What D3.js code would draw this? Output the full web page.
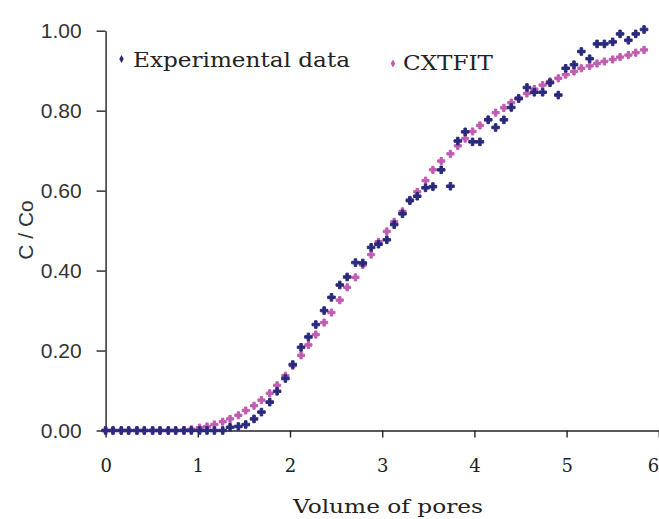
<!DOCTYPE html>
<html>
<head>
<meta charset="utf-8">
<script src="https://cdn.jsdelivr.net/npm/d3@7"></script>
<style>
  html, body { margin: 0; padding: 0; background: #fff; }
  svg { display: block; }
</style>
</head>
<body>
<svg id="chart" width="659" height="519"></svg>
<script>
// pore volumes shared by both series
const poreVolumes = [
  0.00, 0.08, 0.17, 0.25, 0.34, 0.42, 0.51, 0.59, 0.68, 0.76, 0.85, 0.93,
  1.02, 1.10, 1.18, 1.27, 1.35, 1.44, 1.52, 1.61, 1.69, 1.78, 1.86, 1.95,
  2.03, 2.12, 2.20, 2.28, 2.37, 2.45, 2.54, 2.62, 2.71, 2.79, 2.88, 2.96,
  3.05, 3.13, 3.22, 3.30, 3.38, 3.47, 3.55, 3.64, 3.74, 3.82, 3.90, 3.98,
  4.06, 4.15, 4.23, 4.32, 4.40, 4.48, 4.57, 4.65, 4.74, 4.82, 4.91, 4.99,
  5.08, 5.16, 5.25, 5.33, 5.41, 5.50, 5.58, 5.67, 5.75, 5.84
];

// measured C/Co
const experimental = [
  0, 0, 0, 0, 0, 0, 0, 0, 0, 0, 0, 0,
  0, 0, 0, 0, 0.008, 0.010, 0.015, 0.029, 0.046, 0.071, 0.098, 0.130,
  0.165, 0.208, 0.234, 0.265, 0.300, 0.333, 0.364, 0.384, 0.420, 0.419, 0.458, 0.466,
  0.477, 0.515, 0.542, 0.575, 0.586, 0.607, 0.610, 0.652, 0.611, 0.724, 0.747, 0.722,
  0.722, 0.777, 0.758, 0.777, 0.808, 0.830, 0.858, 0.846, 0.846, 0.870, 0.839, 0.906,
  0.915, 0.948, 0.930, 0.967, 0.967, 0.972, 0.992, 0.976, 0.992, 1.003
];

// fitted C/Co
const cxtfit = [
  0, 0, 0, 0, 0, 0, 0, 0, 0, 0, 0.001, 0.003,
  0.007, 0.010, 0.015, 0.022, 0.029, 0.038, 0.050, 0.062, 0.076, 0.093, 0.113, 0.137,
  0.162, 0.188, 0.214, 0.240, 0.270, 0.295, 0.326, 0.358, 0.383, 0.414, 0.440, 0.472,
  0.498, 0.522, 0.548, 0.577, 0.597, 0.625, 0.652, 0.674, 0.692, 0.712, 0.730, 0.748,
  0.763, 0.778, 0.795, 0.807, 0.820, 0.832, 0.843, 0.854, 0.864, 0.873, 0.881, 0.890,
  0.898, 0.906, 0.912, 0.918, 0.923, 0.928, 0.934, 0.939, 0.945, 0.952
];

const xTicks = [0, 1, 2, 3, 4, 5, 6];
const yTicks = [0, 0.2, 0.4, 0.6, 0.8, 1.0];

const navy = "#2a2a7c";
const pink = "#c15cb1";
const serif = "'DejaVu Serif', serif";
const sans = "'Liberation Sans', Arial, sans-serif";

const svg = d3.select("#chart");

const x = d3.scaleLinear().domain([0, 6]).range([105.6, 658.8]);
const y = d3.scaleLinear().domain([0, 1]).range([430.5, 30.7]);

// y axis
const yAxis = svg.append("g")
  .attr("transform", `translate(${x(0)},0)`)
  .call(d3.axisLeft(y).tickValues(yTicks).tickFormat(d3.format(".2f"))
    .tickSize(9).tickPadding(15).tickSizeOuter(0));
yAxis.select(".domain").attr("stroke", "#222").attr("stroke-width", 1.4);
yAxis.selectAll(".tick line").attr("stroke", "#222").attr("stroke-width", 1.4);
yAxis.selectAll("text")
  .attr("fill", "#333")
  .style("font-family", sans)
  .style("font-size", "21px");

// x axis
const xAxis = svg.append("g")
  .attr("transform", `translate(0,${y(0)})`)
  .call(d3.axisBottom(x).tickValues(xTicks).tickFormat(d3.format("d"))
    .tickSize(7).tickPadding(22).tickSizeOuter(0));
xAxis.select(".domain").attr("stroke", "#222").attr("stroke-width", 1.4);
xAxis.selectAll(".tick line").attr("stroke", "#222").attr("stroke-width", 1.4);
xAxis.selectAll("text")
  .attr("fill", "#222")
  .style("font-family", serif)
  .style("font-size", "18px");
// last label sits on the right edge, keep it inside
xAxis.selectAll(".tick text")
  .filter(d => d === 6)
  .attr("text-anchor", "end")
  .attr("x", 0);

// axis titles
svg.append("text")
  .attr("x", 388)
  .attr("y", 513)
  .attr("text-anchor", "middle")
  .attr("fill", "#222")
  .attr("textLength", 190)
  .attr("lengthAdjust", "spacingAndGlyphs")
  .style("font-family", serif)
  .style("font-size", "19px")
  .text("Volume of pores");

svg.append("text")
  .attr("transform", "translate(33,230) rotate(-90)")
  .attr("text-anchor", "middle")
  .attr("fill", "#333")
  .style("font-family", sans)
  .style("font-size", "21px")
  .text("C / Co");

// markers
const marker = d3.symbol().type(d3.symbolCross);

const series = [
  { name: "CXTFIT", values: cxtfit, color: pink, size: 28 },
  { name: "Experimental data", values: experimental, color: navy, size: 32 }
];

// fitted curve drawn first, measured on top
series.forEach(s => {
  svg.append("g")
    .selectAll("path")
    .data(poreVolumes.map((v, i) => [v, s.values[i]]))
    .join("path")
    .attr("transform", d => `translate(${x(d[0])},${y(d[1])})`)
    .attr("d", marker.size(s.size)())
    .attr("fill", s.color)
    .attr("stroke", s.color)
    .attr("stroke-width", 1)
    .attr("stroke-linejoin", "round");
});

// legend
const legend = [
  { name: "Experimental data", color: navy, mx: 121.5, my: 59, tx: 133, ty: 66.5, len: 217 },
  { name: "CXTFIT", color: pink, mx: 393, my: 63.5, tx: 403, ty: 69.5, len: 90 }
];

legend.forEach(l => {
  svg.append("path")
    .attr("transform", `translate(${l.mx},${l.my})`)
    .attr("d", d3.symbol().type(d3.symbolDiamond).size(18)())
    .attr("fill", l.color);
  svg.append("text")
    .attr("x", l.tx)
    .attr("y", l.ty)
    .attr("fill", "#222")
    .attr("textLength", l.len)
    .attr("lengthAdjust", "spacingAndGlyphs")
    .style("font-family", serif)
    .style("font-size", "20px")
    .text(l.name);
});
</script>
</body>
</html>
